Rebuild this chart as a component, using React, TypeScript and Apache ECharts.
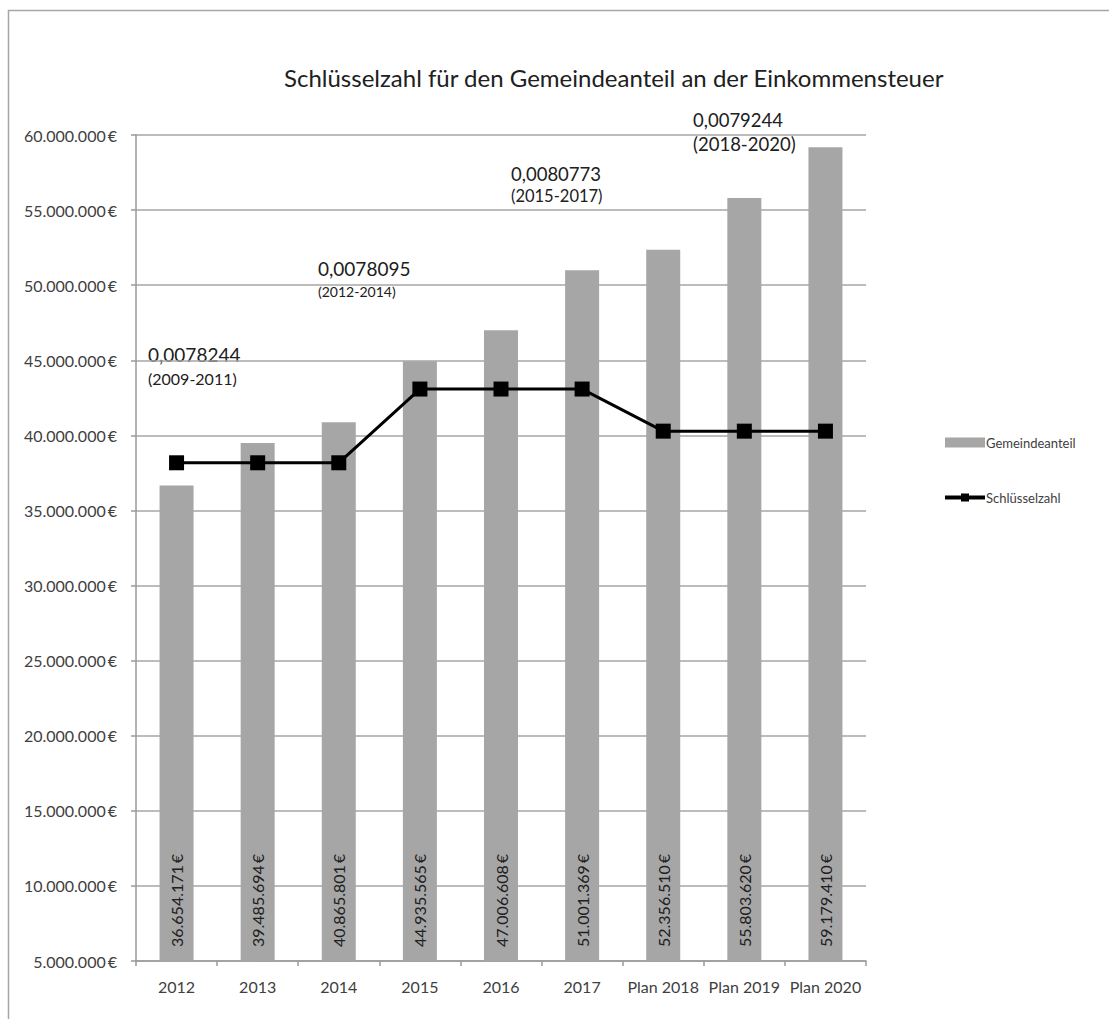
import React, { useEffect, useRef } from "react";
import * as echarts from "echarts";

const categories = ["2012", "2013", "2014", "2015", "2016", "2017", "Plan 2018", "Plan 2019", "Plan 2020"];
const gemeindeanteil = [36654171, 39485694, 40865801, 44935565, 47006608, 51001369, 52356510, 55803620, 59179410];
const schluesselzahl = [0.0078095, 0.0078095, 0.0078095, 0.0080773, 0.0080773, 0.0080773, 0.0079244, 0.0079244, 0.0079244];
const annotations = [
  { value: "0,0078244", period: "(2009-2011)" },
  { value: "0,0078095", period: "(2012-2014)" },
  { value: "0,0080773", period: "(2015-2017)" },
  { value: "0,0079244", period: "(2018-2020)" },
];
const yMin = 5000000;
const yMax = 60000000;
const yStep = 5000000;

const FONT = "Lato, 'Open Sans', sans-serif";
const TXT = "#404040";

function fmt(v: number): string {
  const s = Math.round(v).toString();
  return s.replace(/\B(?=(\d{3})+(?!\d))/g, ".");
}

export default function App() {
  const ref = useRef<HTMLDivElement>(null);
  useEffect(() => {
    if (!ref.current) return;
    const chart = echarts.init(ref.current, undefined, { renderer: "svg" });
    const annPos = [
      { x: 148, y1: 354, y2: 378, s1: 19, s2: 16 },
      { x: 318, y1: 268, y2: 291, s1: 19, s2: 14 },
      { x: 511, y1: 174, y2: 196, s1: 18.5, s2: 16.5 },
      { x: 693, y1: 120, y2: 144, s1: 18.5, s2: 18.5 },
    ];
    const graphics: any[] = [
      {
        type: "rect",
        shape: { x: 8.5, y: 10.5, width: 1200, height: 1200 },
        style: { fill: "none", stroke: "#a6a6a6", lineWidth: 1.5 },
        silent: true,
        z: -10,
      },
    ];
    annotations.forEach((a, i) => {
      const p = annPos[i];
      graphics.push({
        type: "text",
        x: p.x,
        y: p.y1,
        style: { text: a.value, font: `${p.s1}px ${FONT}`, fill: "#202020", textVerticalAlign: "middle" },
      });
      graphics.push({
        type: "text",
        x: p.x,
        y: p.y2,
        style: { text: a.period, font: `${p.s2}px ${FONT}`, fill: "#202020", textVerticalAlign: "middle" },
      });
    });
    chart.setOption({
      animation: false,
      backgroundColor: "#ffffff",
      title: {
        text: "Schlüsselzahl für den Gemeindeanteil an der Einkommensteuer",
        left: 279,
        top: 60,
        textStyle: { fontFamily: FONT, fontSize: 24, fontWeight: "normal", color: "#202020" },
      },
      legend: {
        orient: "vertical",
        left: 938,
        top: 431,
        itemGap: 42,
        itemWidth: 40,
        itemHeight: 10,
        textStyle: { fontFamily: FONT, fontSize: 13, color: TXT, padding: [0, 0, 0, -4] },
        data: [
          { name: "Gemeindeanteil", icon: "rect" },
          { name: "Schlüsselzahl", lineStyle: { width: 4, color: "#000000" } },
        ],
      },
      grid: { left: 136, right: 243, top: 135, bottom: 58, containLabel: false },
      xAxis: {
        type: "category",
        data: categories,
        axisLine: { lineStyle: { color: "#9a9a9a", width: 1.5 } },
        axisTick: { show: true, length: 5, lineStyle: { color: "#9a9a9a", width: 1.5 } },
        axisLabel: { fontFamily: FONT, fontSize: 16, color: TXT, margin: 17, interval: 0 },
      },
      yAxis: [
        {
          type: "value",
          min: yMin,
          max: yMax,
          interval: yStep,
          axisLine: { show: true, lineStyle: { color: "#9a9a9a", width: 1.5 } },
          axisTick: { show: true, length: 5, lineStyle: { color: "#9a9a9a", width: 1.5 } },
          splitLine: { lineStyle: { color: "#a6a6a6", width: 1.5 } },
          axisLabel: {
            fontFamily: FONT,
            fontSize: 16,
            color: TXT,
            margin: 19,
            formatter: (v: number) => fmt(v) + "\u2009€",
          },
        },
        {
          type: "value",
          min: 0.006,
          max: 0.009,
          show: false,
          splitLine: { show: false },
        },
      ],
      series: [
        {
          name: "Gemeindeanteil",
          type: "bar",
          data: gemeindeanteil,
          barWidth: 34,
          itemStyle: { color: "#a6a6a6" },
          label: {
            show: true,
            position: "insideBottom",
            rotate: 90,
            align: "left",
            verticalAlign: "middle",
            distance: 14,
            fontFamily: FONT,
            fontSize: 16,
            color: "#202020",
            formatter: (p: any) => fmt(p.value) + "\u2009€",
          },
          z: 2,
        },
        {
          name: "Schlüsselzahl",
          type: "line",
          yAxisIndex: 1,
          data: schluesselzahl,
          symbol: "rect",
          symbolSize: 15,
          lineStyle: { color: "#000000", width: 3 },
          itemStyle: { color: "#000000" },
          z: 5,
        },
      ],
      graphic: graphics,
    });
    return () => chart.dispose();
  }, []);
  return (
    <div
      ref={ref}
      style={{ position: "absolute", left: 0, top: 0, width: 1109, height: 1019 }}
    />
  );
}
